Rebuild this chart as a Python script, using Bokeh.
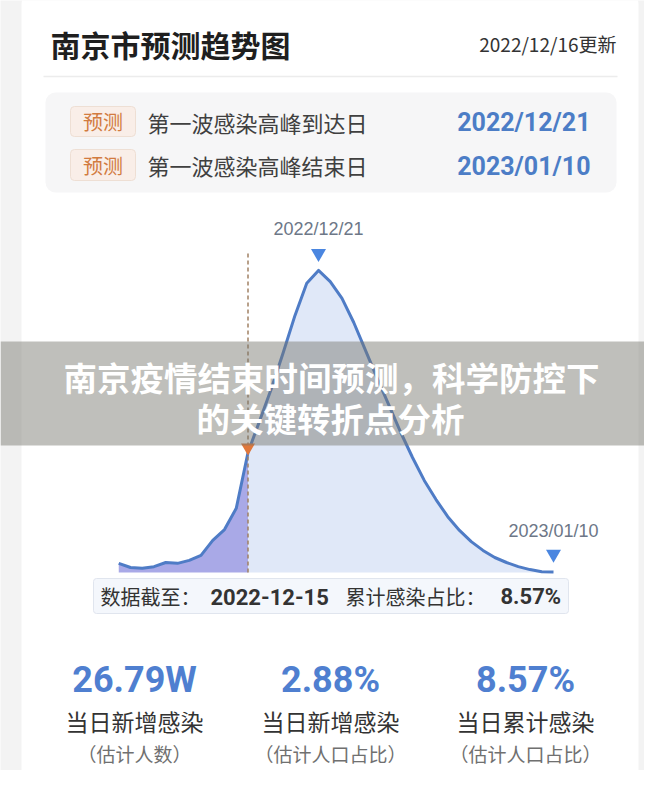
import pandas as pd
from bokeh.plotting import figure
from bokeh.models import Range1d, BoxAnnotation
from bokeh.core.properties import value
from bokeh.embed import file_html
from bokeh.resources import INLINE

# ---------------- data ----------------
dates = ["2022-12-04", "2022-12-05", "2022-12-06", "2022-12-07", "2022-12-08", "2022-12-09",
         "2022-12-10", "2022-12-11", "2022-12-12", "2022-12-13", "2022-12-14", "2022-12-15",
         "2022-12-16", "2022-12-17", "2022-12-18", "2022-12-19", "2022-12-20", "2022-12-21",
         "2022-12-22", "2022-12-23", "2022-12-24", "2022-12-25", "2022-12-26", "2022-12-27",
         "2022-12-28", "2022-12-29", "2022-12-30", "2022-12-31", "2023-01-01", "2023-01-02",
         "2023-01-03", "2023-01-04", "2023-01-05", "2023-01-06", "2023-01-07", "2023-01-08",
         "2023-01-09", "2023-01-10"]
# daily new infections, % of population
daily_pct = [0.22, 0.12, 0.10, 0.14, 0.24, 0.22, 0.29, 0.41, 0.77, 1.03, 1.54, 2.88,
             3.65, 4.42, 5.28, 6.17, 6.94, 7.25, 6.98, 6.58, 6.00, 5.33, 4.66, 4.01,
             3.36, 2.76, 2.21, 1.75, 1.34, 1.01, 0.74, 0.53, 0.36, 0.24, 0.14, 0.07,
             0.02, 0.01]
cutoff_date = "2022-12-15"
peak_date = "2022-12-21"
end_date = "2023-01-10"

title = "南京市预测趋势图"
update_text = "2022/12/16更新"
tag_text = "预测"
row_labels = ["第一波感染高峰到达日", "第一波感染高峰结束日"]
row_dates = ["2022/12/21", "2023/01/10"]
box_labels = ["数据截至：", "累计感染占比："]
box_values = ["2022-12-15", "8.57%"]
stat_values = ["26.79W", "2.88%", "8.57%"]
stat_labels = ["当日新增感染", "当日新增感染", "当日累计感染"]
stat_notes = ["（估计人数）", "（估计人口占比）", "（估计人口占比）"]
overlay_lines = ["南京疫情结束时间预测，科学防控下", "的关键转折点分析"]

# ---------------- layout ----------------
CJK = value("Noto Sans CJK SC")
NUM = value("Roboto")
LAT = value("Liberation Sans")

W, H = 644, 770
x = pd.to_datetime(dates)
d0 = x[0]
DAY_PX = 11.75        # pixels per day
D0_PX = 118.25        # pixel x of first day
BASE_PX = 572.0       # pixel y of zero
UNIT = 0.024          # value per pixel

p = figure(width=W, height=H, x_range=Range1d(0, W), y_range=Range1d(H, 0),
           output_backend="svg", toolbar_location=None, min_border=0,
           x_axis_location=None, y_axis_location=None)
p.grid.visible = False
p.outline_line_color = None
p.background_fill_color = "#f3f3f3"
p.border_fill_color = "#f3f3f3"

p.extra_x_ranges = {"day": Range1d(d0 + pd.Timedelta(days=(0 - D0_PX) / DAY_PX),
                                   d0 + pd.Timedelta(days=(W - D0_PX) / DAY_PX))}
p.extra_y_ranges = {"val": Range1d((BASE_PX - H) * UNIT, (BASE_PX - 0) * UNIT)}

# card & boxes
for kw in [dict(left=21, right=638, top=-10, bottom=800, fill_color="white", border_radius=14),
           dict(left=45, right=616, top=92, bottom=192, fill_color="#f6f6f7", border_radius=10),
           dict(left=70, right=135, top=106, bottom=136, fill_color="#f9eee8", border_radius=4,
                line_color="#eedfd4", line_width=1, line_alpha=1.0),
           dict(left=70, right=135, top=149, bottom=180, fill_color="#f9eee8", border_radius=4,
                line_color="#eedfd4", line_width=1, line_alpha=1.0),
           dict(left=93, right=568, top=578, bottom=613, fill_color="#f4f7fc", border_radius=3,
                line_color="#e0e5ee", line_width=1, line_alpha=1.0)]:
    base = dict(fill_alpha=1.0, line_alpha=0.0, level="underlay")
    base.update(kw)
    p.add_layout(BoxAnnotation(**base))

# header
p.text(x=[50], y=[43], text=[title], text_font=CJK, text_font_size="30px", text_font_style="bold",
       text_color="#1f1f1f", text_baseline="middle", text_align="left")
p.text(x=[616], y=[43], text=[update_text], text_font=CJK, text_font_size="19px",
       text_color="#333333", text_baseline="middle", text_align="right")
p.segment(x0=[43], y0=[76], x1=[617], y1=[76], line_color="#ececec", line_width=1.5)

p.text(x=[102.5, 102.5], y=[121, 164.5], text=[tag_text, tag_text], text_font=CJK,
       text_font_size="20px", text_color="#d27b40", text_baseline="middle", text_align="center")
p.text(x=[147, 147], y=[121, 164.5], text=row_labels, text_font=CJK, text_font_size="22px",
       text_color="#404040", text_baseline="middle", text_align="left")
p.text(x=[590, 590], y=[122, 166], text=row_dates, text_font=NUM, text_font_size="25px",
       text_font_style="bold", text_color="#4c7dc6", text_baseline="middle", text_align="right")

# chart
ci = dates.index(cutoff_date)
pi = dates.index(peak_date)
ei = dates.index(end_date)
p.varea(x=x[:ci + 1], y1=[0] * (ci + 1), y2=daily_pct[:ci + 1], fill_color="#a9a9e7",
        x_range_name="day", y_range_name="val")
p.varea(x=x[ci:], y1=[0] * (len(dates) - ci), y2=daily_pct[ci:], fill_color="#e0e8f8",
        x_range_name="day", y_range_name="val")
p.line(x=x, y=daily_pct, line_color="#4f7cc6", line_width=3, line_join="round",
       x_range_name="day", y_range_name="val")

peak = daily_pct[pi]
p.segment(x0=[x[ci]], y0=[0], x1=[x[ci]], y1=[peak + 19 * UNIT], line_color="#a08063",
          line_width=1.5, line_dash="4 3", x_range_name="day", y_range_name="val")
p.scatter(x=[x[ci]], y=[daily_pct[ci] + 5 * UNIT], marker="inverted_triangle", size=14,
          fill_color="#e0773a", line_color=None, x_range_name="day", y_range_name="val")
p.scatter(x=[x[pi], x[ei]], y=[peak + 17 * UNIT, daily_pct[ei] + 18 * UNIT],
          marker="inverted_triangle", size=15, fill_color="#4a86e0", line_color=None,
          x_range_name="day", y_range_name="val")
p.text(x=[x[pi], x[ei]], y=[peak + 41 * UNIT, daily_pct[ei] + 41 * UNIT],
       text=[row_dates[0], row_dates[1]], text_font=LAT, text_font_size="18px",
       text_color="#6d7787", text_baseline="middle", text_align="center",
       x_range_name="day", y_range_name="val")

# data box
p.text(x=[100, 345], y=[596, 596], text=box_labels, text_font=CJK, text_font_size="20px",
       text_color="#333333", text_baseline="middle", text_align="left")
p.text(x=[210, 500], y=[596, 596], text=box_values, text_font=NUM, text_font_size="22px",
       text_font_style="bold", text_color="#333333", text_baseline="middle", text_align="left")

# stats
cols = [134, 330, 525]
p.text(x=cols, y=[679] * 3, text=stat_values, text_font=NUM, text_font_size="36px",
       text_font_style="bold", text_color="#4f7fd0", text_baseline="middle", text_align="center")
p.text(x=cols, y=[720] * 3, text=stat_labels, text_font=CJK, text_font_size="23px",
       text_color="#333333", text_baseline="middle", text_align="center")
p.text(x=cols, y=[753] * 3, text=stat_notes, text_font=CJK, text_font_size="19px",
       text_color="#707070", text_baseline="middle", text_align="center")

# overlay band with headline
p.quad(left=[0], right=[W], top=[341], bottom=[445], fill_color="#78786f", fill_alpha=0.47,
       line_color=None)
p.text(x=[331, 330], y=[376, 417], text=overlay_lines, text_font=CJK, text_font_size="33.5px",
       text_font_style="bold", text_color="white", text_baseline="middle", text_align="center")

open("out.html", "w").write(file_html(p, INLINE))
